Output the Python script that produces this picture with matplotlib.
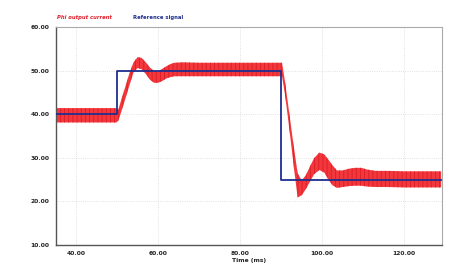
import matplotlib
matplotlib.use("Agg")
import matplotlib.pyplot as plt

# Reference signal (step changes)
ref_t = [35.0, 50.0, 50.0, 90.0, 90.0, 129.0]
ref_v = [40.0, 40.0, 50.0, 50.0, 25.0, 25.0]

# Output current: time points with upper / lower envelope of the ripple band
cur_t = [35.0, 49.8, 50.3, 51.0, 52.0, 53.0, 54.0, 55.0, 56.0, 57.0, 58.0, 59.0,
         60.0, 61.0, 62.0, 63.0, 64.0, 66.0, 70.0, 80.0, 90.2,
         91.0, 92.0, 93.0, 94.0, 95.0, 96.0, 97.0, 98.0, 99.3, 100.5, 101.5,
         102.5, 103.6, 105.0, 106.5, 108.0, 109.5, 111.0, 113.0, 116.0, 120.0, 129.0]
cur_hi = [41.4, 41.4, 41.0, 43.3, 46.3, 49.4, 51.9, 53.1, 52.9, 51.9, 50.7, 49.9,
          49.8, 50.4, 51.0, 51.5, 51.8, 51.9, 51.8, 51.8, 51.8,
          47.0, 40.0, 33.0, 26.5, 24.8, 26.0, 28.0, 29.9, 31.2, 30.8, 29.6,
          28.3, 27.1, 27.1, 27.5, 27.7, 27.7, 27.3, 27.0, 27.0, 26.9, 26.9]
cur_lo = [38.1, 38.1, 38.5, 40.5, 43.5, 46.6, 49.6, 50.6, 50.3, 49.2, 47.9, 47.2,
          47.2, 47.6, 48.2, 48.5, 48.7, 48.7, 48.7, 48.7, 48.7,
          44.0, 36.5, 28.5, 20.9, 21.4, 22.8, 24.5, 26.2, 27.2, 26.6, 25.0,
          23.7, 23.1, 23.3, 23.5, 23.6, 23.6, 23.4, 23.3, 23.3, 23.2, 23.2]

x_ticks = [40, 60, 80, 100, 120]
y_ticks = [10, 20, 30, 40, 50, 60]

plt.rcParams["hatch.linewidth"] = 0.6
fig = plt.figure(figsize=(4.6, 2.73), dpi=100)
ax = fig.add_axes([56 / 460, 1 - 245 / 273, (442 - 56) / 460, (245 - 27) / 273])

ax.fill_between(cur_t, cur_lo, cur_hi, facecolor="#f2383c", edgecolor="#dc1e26",
                hatch="||||", linewidth=0.0, zorder=2)
ax.plot(ref_t, ref_v, color="#1f2f8f", lw=1.3, zorder=3)

ax.set_xlim(35.1, 129.2)
ax.set_ylim(10, 60)
ax.set_xticks(x_ticks)
ax.set_xticklabels([f"{v:.2f}" for v in x_ticks])
ax.set_yticks(y_ticks)
ax.set_yticklabels([f"{v:.2f}" for v in y_ticks])
ax.tick_params(length=0, labelsize=4.3, colors="#222222")
ax.tick_params(axis="y", pad=4.5)
ax.tick_params(axis="x", pad=4)
for lbl in ax.get_xticklabels() + ax.get_yticklabels():
    lbl.set_fontweight("bold")
ax.grid(True, color="#d8d8d8", lw=0.6, ls=":")
ax.set_axisbelow(True)

for side in ["left", "bottom"]:
    ax.spines[side].set_color("#555555")
    ax.spines[side].set_linewidth(1.0)
for side in ["top", "right"]:
    ax.spines[side].set_color("#aaaaaa")
    ax.spines[side].set_linewidth(0.8)

ax.set_xlabel("Time (ms)", fontsize=4.3, fontweight="bold", labelpad=1.5, color="#222222")

fig.text(57 / 460, 1 - 17 / 273, "Phi output current", color="#e0202a", fontsize=3.8,
         fontweight="bold", style="italic", va="center", ha="left")
fig.text(133 / 460, 1 - 17 / 273, "Reference signal", color="#1f2f8f", fontsize=3.8,
         fontweight="bold", va="center", ha="left")

fig.savefig("out.png", dpi=100)
